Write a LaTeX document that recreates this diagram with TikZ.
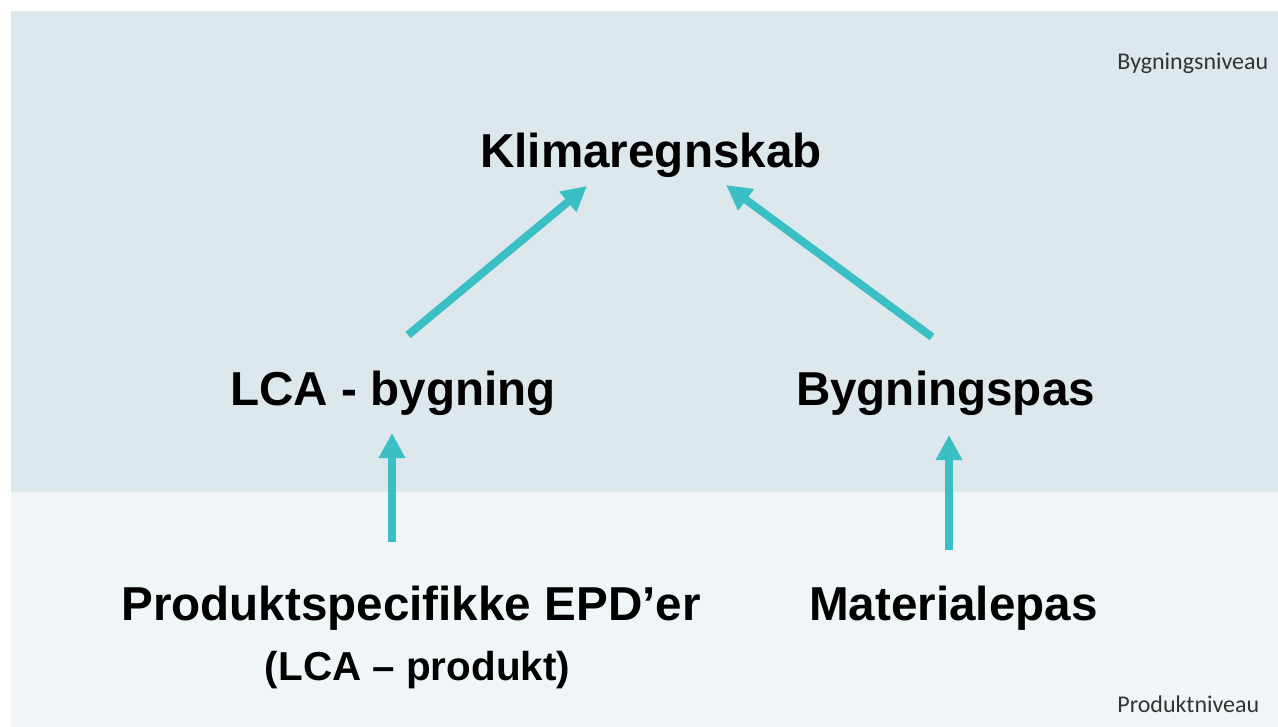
\documentclass[tikz,border=0pt]{standalone}
\usepackage{fontspec}
\setmainfont{Liberation Sans}
\newfontfamily\smallfont{Carlito}
\usetikzlibrary{arrows.meta}
\definecolor{toplayer}{RGB}{220,232,236}
\definecolor{botlayer}{RGB}{240,246,247}
\definecolor{flowcol}{RGB}{58,191,196}
\tikzset{
every picture/.style={
x=0.5pt, y=-0.5pt
},
level/.style={inner sep=0pt, anchor=base, font=\fontsize{23.8}{28}\selectfont\bfseries},
sublevel/.style={inner sep=0pt, anchor=base, font=\fontsize{20.2}{25}\selectfont\bfseries},
tag/.style={inner sep=0pt, anchor=base west, text=black!80, font=\smallfont\fontsize{12}{14}\selectfont},
flow/.style={draw=flowcol, line width=4pt, -{Triangle[length=12.5pt, width=12.5pt]}, flowcol}
}

\begin{document}
\begin{tikzpicture}
\useasboundingbox (0,0) rectangle (1278,727);
\fill[toplayer] (11,11) rectangle (1278,492);
\fill[botlayer] (11,492) rectangle (1278,727);

\node[tag] (bniv) at (1117,70) {Bygningsniveau};
\node[tag] (pniv) at (1117,712) {Produktniveau};

\node[level] (klima) at (651,168) {Klimaregnskab};
\node[level] (lca) at (393,405) {LCA - bygning};
\node[level] (bpas) at (945.5,405) {Bygningspas};
\node[level] (prod) at (411,620) {Produktspecifikke EPD’er};
\node[sublevel] (prodsub) at (417.5,680) {(LCA – produkt)};
\node[level] (mpas) at (953.5,620) {Materialepas};

% from / shift / to / shift
\foreach \s/\sx/\sy/\t/\tx/\ty in {lca/15/-70/klima/-64/18, bpas/-13.5/-68/klima/75/17, prod/-19/-78/lca/-1/28, mpas/-4.5/-70/bpas/3.5/30}{
  \draw[flow] ([shift={(\sx,\sy)}]\s.base) -- ([shift={(\tx,\ty)}]\t.base);
}
\end{tikzpicture}
\end{document}
